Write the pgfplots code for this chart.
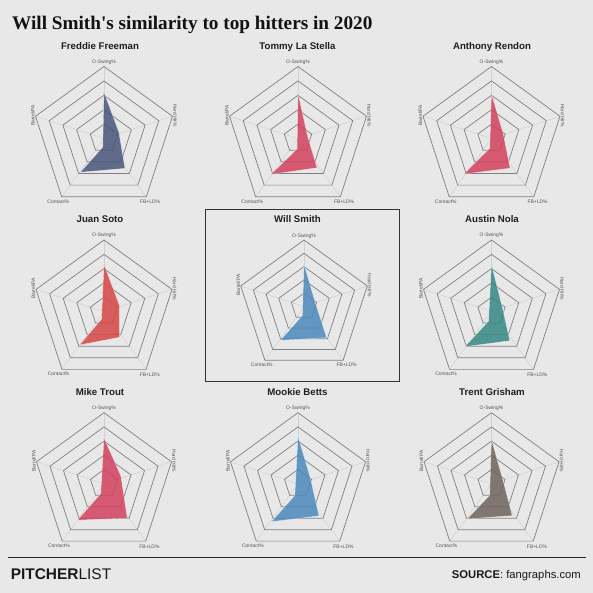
\documentclass[border=0pt]{standalone}
\usepackage{fontspec}
\setmainfont{Liberation Sans}
\newfontfamily\seriffont{Liberation Serif}
\usepackage{pgfplots}
\pgfplotsset{compat=1.18}
\usepgfplotslibrary{polar}
\definecolor{bg}{HTML}{E8E8E8}
\definecolor{ringc}{HTML}{808080}
\definecolor{spokec}{HTML}{D2D2D2}
\definecolor{labc}{HTML}{555555}
\definecolor{cslate}{HTML}{485679}
\definecolor{cred}{HTML}{D3415E}
\definecolor{csalmon}{HTML}{D64747}
\definecolor{cblue}{HTML}{4D88BC}
\definecolor{cteal}{HTML}{358782}
\definecolor{cgray}{HTML}{6E645E}
\pgfplotsset{
  radar/.style={scale only axis, hide axis, xmin=0, xmax=360, ymin=0, ymax=5, clip=false, anchor=center},
  ring/.style={draw=ringc, line width=0.7bp, mark=none, line join=round},
  spoke/.style={draw=spokec, line width=0.5bp, mark=none},
}
\tikzset{lab/.style={font=\fontsize{5}{6}\selectfont, text=labc, inner sep=0pt}}
\newcommand{\radargrid}{%
  \addplot[spoke] coordinates {(0,0) (90,5)};
  \addplot[spoke] coordinates {(0,0) (18,5)};
  \addplot[spoke] coordinates {(0,0) (306,5)};
  \addplot[spoke] coordinates {(0,0) (234,5)};
  \addplot[spoke] coordinates {(0,0) (162,5)};
  \addplot[ring] coordinates {(90,1) (18,1) (306,1) (234,1) (162,1) (90,1) (18,1)};
  \addplot[ring] coordinates {(90,2) (18,2) (306,2) (234,2) (162,2) (90,2) (18,2)};
  \addplot[ring] coordinates {(90,3) (18,3) (306,3) (234,3) (162,3) (90,3) (18,3)};
  \addplot[ring] coordinates {(90,4) (18,4) (306,4) (234,4) (162,4) (90,4) (18,4)};
  \addplot[ring] coordinates {(90,5) (18,5) (306,5) (234,5) (162,5) (90,5) (18,5)};
  \node[lab] at (axis cs:90,5.3) {O-Swing\%};
  \node[lab,rotate=-90] at (axis cs:18,5.2) {Hard Hit\%};
  \node[lab] at (axis cs:306,5.45) {FB+LD\%};
  \node[lab] at (axis cs:234,5.4) {Contact\%};
  \node[lab,rotate=90] at (axis cs:162,5.2) {Barrel/PA};
}
% #1 cx, #2 cy, #3 diameter, #4 colour, #5 data
\newcommand{\radar}[5]{%
  \begin{polaraxis}[radar, at={(#1bp,-#2bp)}, width=#3bp, height=#3bp]
    \radargrid
    \addplot[fill=#4, fill opacity=0.85, draw=white, draw opacity=0.6, line width=0.35bp, mark=none] coordinates {#5};
  \end{polaraxis}%
}
\begin{document}
\begin{tikzpicture}
\fill[bg] (0,0) rectangle (593bp,-593bp);
\node[anchor=base west, inner sep=0pt, font=\seriffont\bfseries\fontsize{19.3}{21}\selectfont, text=black!93] at (12bp,-29bp) {Will Smith's similarity to top hitters in 2020};
% panel titles
\tikzset{ptitle/.style={anchor=base, inner sep=0pt, font=\bfseries\fontsize{9.7}{11}\selectfont, text=black!88}}
\node[ptitle] at (100bp,-49.5bp) {Freddie Freeman};
\node[ptitle] at (297.5bp,-49.5bp) {Tommy La Stella};
\node[ptitle] at (492bp,-49.5bp) {Anthony Rendon};
\node[ptitle] at (100bp,-222.5bp) {Juan Soto};
\node[ptitle] at (297.5bp,-222.5bp) {Will Smith};
\node[ptitle] at (492bp,-222.5bp) {Austin Nola};
\node[ptitle] at (100bp,-395.5bp) {Mike Trout};
\node[ptitle] at (297.5bp,-395.5bp) {Mookie Betts};
\node[ptitle] at (492bp,-395.5bp) {Trent Grisham};
% Will Smith box
\draw[black!80, line width=0.9bp] (205.7bp,-209.3bp) rectangle (399bp,-381.5bp);
% radars
\radar{104}{138.5}{144}{cslate}{(90,3.2) (22,1.12) (305,2.53) (235,2.86) (262,0.6) (90,3.2)}
\radar{298}{138.5}{144}{cred}{(90,3.14) (14,0.68) (303,2.42) (233,3.12) (265,0.73) (90,3.14)}
\radar{491.5}{138.5}{144}{cred}{(90,3.09) (22,0.88) (302,2.43) (232,3.13) (260,0.69) (90,3.09)}
\radar{104}{311.5}{143}{csalmon}{(90,3.29) (21,1.16) (301,2.1) (234,2.89) (252,0.56) (90,3.29)}
\radar{304}{306.5}{133}{cblue}{(90,3.18) (22,0.9) (306,2.89) (235,3.1) (260,0.68) (90,3.18)}
\radar{491.5}{311.5}{143}{cteal}{(90,3.3) (16,0.8) (302,2.41) (233,3.07) (253,0.7) (90,3.3)}
\radar{104}{483.7}{142}{cred}{(90,3.23) (24,1.3) (304,2.92) (234,3.17) (252,0.73) (90,3.23)}
\radar{298}{483.7}{142}{cblue}{(90,3.34) (22,0.95) (303,2.7) (235,3.26) (255,0.85) (90,3.34)}
\radar{491.5}{483.7}{142}{cgray}{(90,3.1) (24,0.85) (303,2.68) (235.5,3.0) (261,0.83) (90,3.1)}
% footer
\draw[black!85, line width=1bp] (7.6bp,-557.5bp) -- (585.5bp,-557.5bp);
\node[anchor=base west, inner sep=0pt, font=\fontsize{15.5}{17}\selectfont, text=black!90] at (10.6bp,-579.5bp) {\textbf{PITCHER}LIST};
\node[anchor=base east, inner sep=0pt, font=\fontsize{11.3}{13}\selectfont, text=black!90] at (581bp,-578bp) {\textbf{SOURCE}: fangraphs.com};
\pgfresetboundingbox
\path[use as bounding box] (0,0) rectangle (593bp,-593bp);
\end{tikzpicture}
\end{document}
